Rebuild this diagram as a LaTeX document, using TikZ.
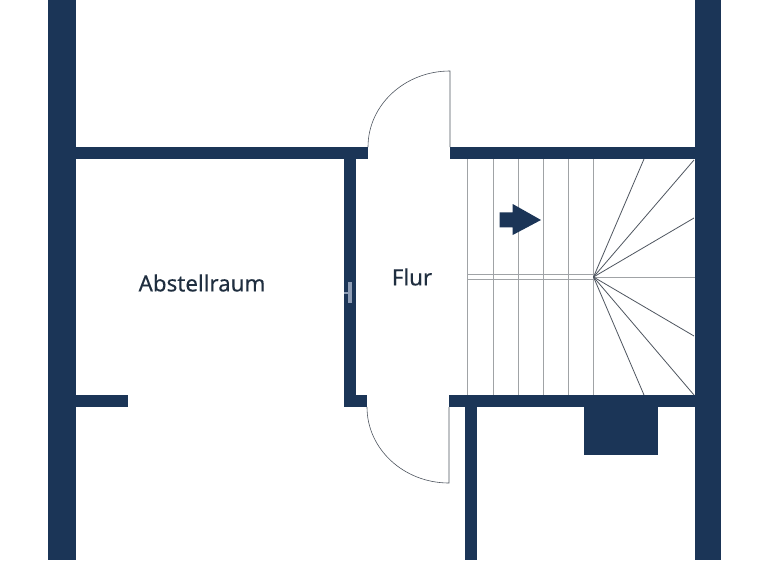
\documentclass[tikz,border=0pt]{standalone}
\usepackage{fontspec}
\setmainfont[FakeBold=0.25]{Noto Sans}
\definecolor{wallblue}{HTML}{1B3557}
\definecolor{stairgray}{HTML}{A0A3A6}
\definecolor{raygray}{HTML}{4F5660}
\definecolor{markgray}{HTML}{8E9DB5}
\definecolor{labelink}{HTML}{1F2E3F}

\begin{document}
\begin{tikzpicture}[x=1pt,y=-1pt]

\tikzset{wall/.style = {fill=wallblue,draw=none}}
\tikzset{tread/.style = {draw=stairgray,line width=1pt}}
\tikzset{ray/.style = {draw=raygray,line width=0.8pt}}
\tikzset{swing/.style = {draw=raygray,line width=0.6pt}}
\tikzset{room/.style = {text=labelink,font=\fontsize{22.3}{26}\selectfont\bfseries,inner sep=0pt}}

\useasboundingbox (0,0) rectangle (768,560);
\fill[white] (0,0) rectangle (768,560);

%walls
\fill[wall] (48,0) rectangle (76,560);
\fill[wall] (695,0) rectangle (721,560);
\fill[wall] (76,147) rectangle (368,159);
\fill[wall] (450,147) rectangle (695,159);
\fill[wall] (343.5,159) rectangle (355.5,407);
\fill[wall] (343.5,395) rectangle (367,407);
\fill[wall] (449,395) rectangle (695,407);
\fill[wall] (76,395) rectangle (128,407);
\fill[wall] (464.5,407) rectangle (476.5,560);
\fill[wall] (584,407) rectangle (657.5,455);

%switch mark
\fill[markgray] (348,282) rectangle (352,303);
\fill[markgray] (343.5,292) rectangle (348,294);

%doors
\draw[swing] (450,147) -- (450,71) arc[start angle=270,end angle=180,x radius=82,y radius=76];
\draw[swing] (449,407) -- (449,483) arc[start angle=90,end angle=180,x radius=82,y radius=76];

%stairs
\foreach \x in {467,493.5,518,543.5,568.5,593.5}
  \draw[tread] (\x,159) -- (\x,395);
\draw[tread] (467,274) -- (593.5,274);
\draw[tread] (467,279.5) -- (593.5,279.5);
\draw[tread] (593.5,277) -- (695,277);
\coordinate (turn) at (593.5,277);
\foreach \x/\y in {644/159,694/160,694/218,694/336,694/395,644/395}
  \draw[ray] (turn) -- (\x,\y);

%arrow
\fill[wall] (499.7,212.3) -- (512.7,212.3) -- (512.7,204) -- (541,220) -- (512.7,235) -- (512.7,227.3) -- (499.7,227.3) -- cycle;

%labels
\node[room] (abstellraum) at (202,283) {Abstellraum};
\node[room] (flur) at (412,277) {Flur};

\end{tikzpicture}
\end{document}
